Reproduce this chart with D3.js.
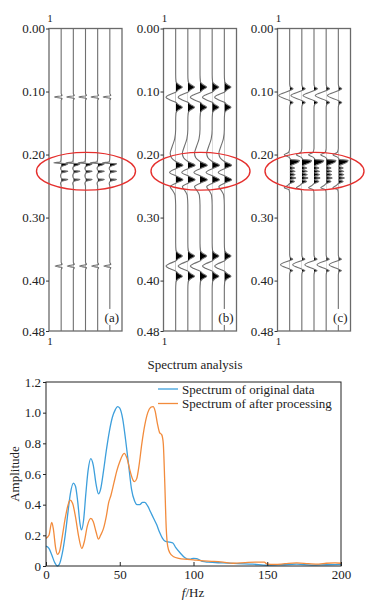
<!DOCTYPE html>
<html>
<head>
<meta charset="utf-8">
<script src="https://cdn.jsdelivr.net/npm/d3@7"></script>
<style>
    body { margin: 0; background: #fff; }
    text { font-family: "Liberation Serif", "Times New Roman", serif; fill: #222; }
</style>
</head>
<body>
<div id="chart"></div>
<script>
// ---- seismic panels ----
const timeTicks = [0, 0.1, 0.2, 0.3, 0.4, 0.48];
const panelNames = ["(a)", "(b)", "(c)"];
const traceIds = [1, 2, 3, 4, 5];

// one trace per panel (all 5 traces identical): [time (s), amplitude in trace spacings]
const traceA = [
    [0, 0],
    [0.103, 0], [0.1065, 0.08], [0.1087, -0.55], [0.111, 0.08], [0.114, 0],
    [0.205, 0], [0.2115, -0.05], [0.2135, -0.6], [0.2145, 0.55], [0.216, 0.45], [0.219, 0.03],
    [0.222, -0.05], [0.2255, 0.05], [0.2265, 0.55], [0.2295, 0.03], [0.2335, -0.05],
    [0.2385, 0.05], [0.2395, 0.55], [0.2425, 0.03], [0.246, -0.05], [0.25, 0],
    [0.371, 0], [0.3745, 0.08], [0.377, -0.5], [0.3795, 0.08], [0.383, 0],
    [0.48, 0]
];
const traceB = [
    [0, 0],
    [0.072, 0], [0.084, 0.03], [0.0885, 0.2], [0.093, 0.55], [0.0975, 0.2], [0.101, 0],
    [0.105, -0.5], [0.109, -0.8], [0.113, -0.5], [0.117, 0], [0.1205, 0.2], [0.125, 0.55],
    [0.1295, 0.2], [0.134, 0.03], [0.146, 0],
    [0.16, 0], [0.175, -0.08], [0.188, -0.3], [0.198, -0.45], [0.205, -0.35], [0.211, 0],
    [0.217, 0.6], [0.222, 0.05], [0.2285, -0.5], [0.234, 0.05], [0.24, 0.6], [0.245, 0.05],
    [0.251, -0.45], [0.257, -0.25], [0.265, -0.05], [0.28, 0],
    [0.34, 0], [0.352, 0.03], [0.3565, 0.2], [0.361, 0.55], [0.3655, 0.2], [0.369, 0],
    [0.373, -0.5], [0.377, -0.8], [0.381, -0.5], [0.385, 0], [0.3885, 0.2], [0.393, 0.55],
    [0.3975, 0.2], [0.402, 0.03], [0.414, 0],
    [0.48, 0]
];
const traceC = [
    [0, 0],
    [0.088, 0], [0.0925, 0.05], [0.0955, 0.28], [0.0985, 0.02], [0.1065, -0.9],
    [0.1145, 0.02], [0.1175, 0.28], [0.1205, 0.05], [0.125, 0],
    [0.19, 0], [0.1965, -0.08], [0.2005, -0.45], [0.2045, -0.05], [0.2078, 0.1], [0.2092, 0.8],
    [0.212, 0.72], [0.2185, 0.05], [0.2215, 0.4], [0.224, 0.05], [0.2265, 0.45], [0.229, 0.05],
    [0.2318, 0.45], [0.2345, 0.05], [0.2372, 0.5], [0.24, 0.05], [0.2428, 0.4], [0.246, 0.02],
    [0.2495, -0.2], [0.2525, -0.45], [0.256, -0.05], [0.262, 0],
    [0.359, 0], [0.3635, 0.05], [0.366, 0.25], [0.368, 0.02], [0.375, -0.75],
    [0.382, 0.02], [0.384, 0.25], [0.3865, 0.05], [0.391, 0],
    [0.48, 0]
];
const panelTraces = [traceA, traceB, traceC];

// ---- spectrum ----
const freq = [0, 2, 4, 6, 7.7, 9, 11, 13, 15, 16.5, 18.6, 20, 21.5, 23, 24, 25.5, 27, 28.5, 30.4, 32,
    34, 35.6, 37, 39, 41, 43, 45, 47, 48.5, 50, 52, 54, 56, 58, 60, 61.7, 63.5, 65.5, 67, 69,
    71, 73, 75, 77, 79, 81, 84, 86, 88, 91, 94, 96, 98, 100, 102, 104, 106, 110, 120, 130,
    140, 150, 160, 170, 180, 190, 200];
const ampOriginal = [0.13, 0.115, 0.07, 0.02, 0.0, 0.01, 0.08, 0.2, 0.36, 0.47, 0.54, 0.52, 0.42, 0.28, 0.235, 0.3,
    0.47, 0.62, 0.70, 0.66, 0.53, 0.47, 0.50, 0.62, 0.76, 0.88, 0.97, 1.02, 1.04, 1.03, 0.96, 0.82,
    0.66, 0.50, 0.425, 0.40, 0.40, 0.415, 0.415, 0.39, 0.35, 0.31, 0.27, 0.22, 0.18, 0.16, 0.155, 0.15,
    0.12, 0.085, 0.055, 0.045, 0.045, 0.05, 0.048, 0.04, 0.03, 0.025, 0.02, 0.015, 0.012, 0.005, 0.008,
    0.012, 0.006, 0.008, 0.01];
const freq2 = [0, 2, 3.9, 5, 6.5, 7.7, 9, 11, 13, 15, 16.3, 18, 20, 22, 24.3, 26, 28, 30.4, 32, 34, 35.6,
    37, 39, 41, 42.4, 44, 46, 48, 50, 53, 55, 57, 59, 60, 61.5, 63, 65, 67, 69, 71, 72.6, 74, 75.5,
    77, 78.5, 79.5, 80.5, 81.5, 82.5, 84, 86.6, 90, 95.7, 100, 105, 113.8, 120, 127, 135, 142, 148,
    150, 155, 162, 170, 178, 185, 190, 196, 200];
const ampProcessed = [0.18, 0.2, 0.285, 0.24, 0.12, 0.076, 0.09, 0.19, 0.31, 0.40, 0.43, 0.41, 0.32, 0.2, 0.115,
    0.16, 0.26, 0.31, 0.29, 0.22, 0.175, 0.2, 0.245, 0.33, 0.41, 0.46, 0.54, 0.62, 0.68, 0.735, 0.70,
    0.62, 0.56, 0.55, 0.57, 0.65, 0.80, 0.92, 1.0, 1.035, 1.04, 1.01, 0.93, 0.87, 0.855, 0.80, 0.55,
    0.25, 0.13, 0.085, 0.06, 0.05, 0.044, 0.04, 0.035, 0.03, 0.025, 0.018, 0.022, 0.025, 0.025, 0.012,
    0.01, 0.015, 0.02, 0.015, 0.012, 0.018, 0.02, 0.018];
const ampTicks = [0, 0.2, 0.4, 0.6, 0.8, 1.0, 1.2];
const freqTicks = [0, 50, 100, 150, 200];
const seriesNames = ["Spectrum of original data", "Spectrum of after processing"];
const colors = ["#3d9fdc", "#f28b3c"];

const W = 374, H = 602;
const svg = d3.select("#chart").append("svg").attr("width", W).attr("height", H);

// ================= top: three seismic panels =================
const panelLeft = [49, 163.5, 277.5];
const panelW = 73;
const yT = d3.scaleLinear().domain([0, 0.48]).range([28.5, 331]);
const boxGray = "#6a6a6a";

panelLeft.forEach((left, p) => {
    let g = svg.append("g");
    let x = d3.scaleLinear().domain([0, 6]).range([left, left + panelW]);
    let unit = x(1) - x(0);

    traceIds.forEach(k => {
        // only the positive side of this trace gets filled
        let clipId = "clip" + p + "_" + k;
        g.append("clipPath").attr("id", clipId)
            .append("rect")
            .attr("x", x(k)).attr("y", yT(0))
            .attr("width", unit).attr("height", yT(0.48) - yT(0));

        let area = d3.area()
            .curve(d3.curveMonotoneY)
            .y(d => yT(d[0]))
            .x0(x(k))
            .x1(d => x(k) + d[1] * unit);
        g.append("path")
            .datum(panelTraces[p])
            .attr("d", area)
            .attr("fill", "#000")
            .attr("clip-path", "url(#" + clipId + ")");

        let line = d3.line()
            .curve(d3.curveMonotoneY)
            .y(d => yT(d[0]))
            .x(d => x(k) + d[1] * unit);
        g.append("path")
            .datum(panelTraces[p])
            .attr("d", line)
            .attr("fill", "none")
            .attr("stroke", "#707070")
            .attr("stroke-width", 1.1);
    });

    // panel label with white patch
    g.append("rect")
        .attr("x", x(6) - 20).attr("y", yT(0.445))
        .attr("width", 18).attr("height", 16)
        .attr("fill", "#fff");
    g.append("text")
        .attr("x", x(6) - 3).attr("y", yT(0.465))
        .attr("text-anchor", "end")
        .attr("font-size", "13px")
        .text(panelNames[p]);

    // box
    g.append("rect")
        .attr("x", x(0)).attr("y", yT(0))
        .attr("width", panelW).attr("height", yT(0.48) - yT(0))
        .attr("fill", "none").attr("stroke", boxGray).attr("stroke-width", 1.3);

    // y axis
    let axis = g.append("g")
        .attr("transform", "translate(" + x(0) + ",0)")
        .call(d3.axisLeft(yT).tickValues(timeTicks).tickFormat(d3.format(".2f")).tickSize(3).tickPadding(1));
    axis.select(".domain").remove();
    axis.selectAll("line").attr("stroke", "#333");
    axis.selectAll("text").attr("font-size", "13px").attr("fill", "#222");

    // trace number tick label
    g.append("text").attr("x", x(0) + 1).attr("y", 22).attr("text-anchor", "middle")
        .attr("font-size", "11px").text("1");
    g.append("text").attr("x", x(0) + 1).attr("y", 345).attr("text-anchor", "middle")
        .attr("font-size", "11px").text("1");

    // red ellipse
    g.append("ellipse")
        .attr("cx", x(3) + 0.5).attr("cy", yT(0.2265))
        .attr("rx", 49.5).attr("ry", yT(0.2265) - yT(0.1965))
        .attr("fill", "none").attr("stroke", "#e5302e").attr("stroke-width", 1.4);
});

// ================= bottom: spectrum =================
const m = {left: 46, right: 341, top: 382, bottom: 566};
const xF = d3.scaleLinear().domain([0, 200]).range([m.left, m.right]);
const yA = d3.scaleLinear().domain([0, 1.2]).range([m.bottom, m.top]);

const sg = svg.append("g");

const series = [
    freq.map((f, i) => [f, ampOriginal[i]]),
    freq2.map((f, i) => [f, ampProcessed[i]])
];
const specLine = d3.line().curve(d3.curveMonotoneX).x(d => xF(d[0])).y(d => yA(d[1]));
series.forEach((s, i) => {
    sg.append("path").datum(s).attr("d", specLine)
        .attr("fill", "none").attr("stroke", colors[i]).attr("stroke-width", 1.3);
});

sg.append("rect")
    .attr("x", m.left).attr("y", m.top)
    .attr("width", m.right - m.left).attr("height", m.bottom - m.top)
    .attr("fill", "none").attr("stroke", "#222").attr("stroke-width", 1);

let xAx = sg.append("g").attr("transform", "translate(0," + m.bottom + ")")
    .call(d3.axisBottom(xF).tickValues(freqTicks).tickSize(-4).tickPadding(4));
let yAx = sg.append("g").attr("transform", "translate(" + m.left + ",0)")
    .call(d3.axisLeft(yA).tickValues(ampTicks).tickFormat(d => d === 0 ? "0" : d3.format(".1f")(d)).tickSize(3).tickPadding(2));
[xAx, yAx].forEach(a => {
    a.select(".domain").remove();
    a.selectAll("line").attr("stroke", "#222");
    a.selectAll("text").attr("font-size", "13px").attr("fill", "#222");
});

sg.append("text").attr("x", 195).attr("y", 369).attr("text-anchor", "middle")
    .attr("font-size", "13px").text("Spectrum analysis");

sg.append("text")
    .attr("transform", "translate(14," + yA(0.6) + ") rotate(-90)")
    .attr("text-anchor", "middle").attr("dy", "0.35em")
    .attr("font-size", "13px").text("Amplitude");

let xl = sg.append("text").attr("x", 193).attr("y", 597).attr("text-anchor", "middle").attr("font-size", "13px");
xl.append("tspan").attr("font-style", "italic").text("f");
xl.append("tspan").text("/Hz");

seriesNames.forEach((name, i) => {
    let ly = 389 + i * 14.5;
    sg.append("line").attr("x1", 158).attr("x2", 178).attr("y1", ly).attr("y2", ly)
        .attr("stroke", colors[i]).attr("stroke-width", 1.3);
    sg.append("text").attr("x", 182).attr("y", ly).attr("dy", "0.35em")
        .attr("font-size", "13px").text(name);
});
</script>
</body>
</html>
